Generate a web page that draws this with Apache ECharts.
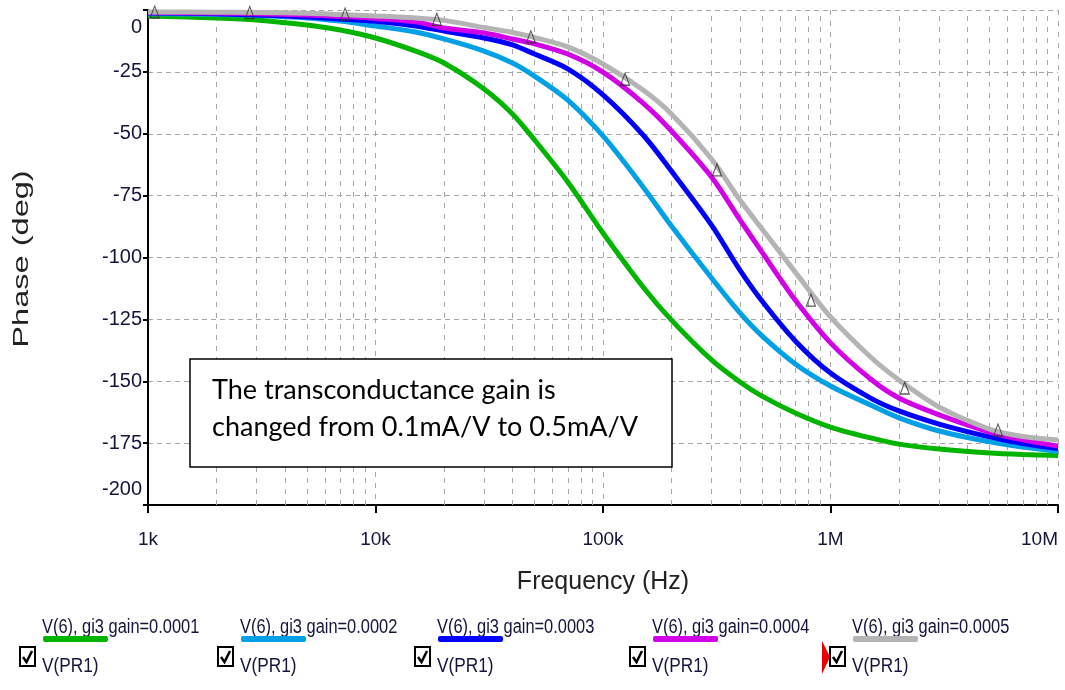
<!DOCTYPE html>
<html><head><meta charset="utf-8">
<script src="https://cdn.jsdelivr.net/npm/echarts@6/dist/echarts.min.js"></script>
<style>html,body{margin:0;padding:0;background:#fff}#chart{width:1065px;height:690px}</style>
</head><body><div id="chart"></div>
<script>
// ---------- data ----------
const frequencies = [1e3, 2e3, 3e3, 5e3, 7e3, 1e4, 1.5e4, 2e4, 3e4, 4e4, 5e4, 7e4, 1e5, 1.5e5, 2e5, 3e5, 4e5, 5e5, 7e5, 1e6, 1.5e6, 2e6, 3e6, 5e6, 7e6, 1e7];
const phaseGain1 = [-2.4, -3.2, -4.0, -6.1, -8.1, -11.3, -16.6, -21.4, -31.9, -42.0, -52.5, -69.5, -90.1, -111.9, -125.3, -141.4, -150.3, -156.0, -162.8, -168.5, -172.9, -175.4, -177.4, -179.0, -179.6, -180.0];
const phaseGain2 = [-1.5, -1.8, -2.2, -3.2, -4.5, -6.5, -8.9, -11.7, -16.6, -21.4, -26.7, -36.4, -50.9, -71.5, -87.3, -108.3, -122.4, -131.7, -143.0, -151.9, -159.6, -164.8, -170.1, -174.5, -176.6, -178.4];
const phaseGain3 = [-1.2, -1.5, -2.0, -2.8, -3.6, -4.6, -6.5, -8.5, -11.3, -14.1, -17.8, -23.8, -34.3, -50.5, -65.1, -86.9, -105.1, -117.6, -133.7, -146.7, -156.8, -162.0, -167.3, -172.5, -175.2, -177.2];
const phaseGain4 = [-1.0, -1.2, -1.5, -2.0, -2.6, -3.4, -4.8, -7.3, -9.3, -11.7, -13.7, -17.8, -25.1, -37.6, -48.9, -67.5, -84.8, -97.8, -117.2, -134.5, -149.1, -156.8, -163.6, -170.5, -173.7, -176.2];
const phaseGain5 = [-0.8, -0.9, -1.0, -1.3, -1.8, -2.4, -3.2, -4.2, -7.1, -9.1, -11.1, -14.9, -21.8, -32.3, -42.0, -60.2, -76.8, -88.5, -105.9, -124.0, -140.2, -149.5, -160.4, -169.3, -172.3, -173.7];
const markerFreqs = [1.07e3, 2.8e3, 7.35e3, 1.86e4, 4.82e4, 1.25e5, 3.17e5, 8.2e5, 2.12e6, 5.45e6];
const markerPhase = [-0.8, -1, -1.6, -3.8, -10.8, -28, -64.6, -117.2, -152.7, -169.7];
const seriesNames = ['V(6), gi3 gain=0.0001', 'V(6), gi3 gain=0.0002', 'V(6), gi3 gain=0.0003', 'V(6), gi3 gain=0.0004', 'V(6), gi3 gain=0.0005'];
const legendSubLabel = 'V(PR1)';
const seriesColors = ['#00b400', '#00a0e6', '#0000ff', '#d200e6', '#b4b4b4'];
const xTickLabels = ['1k', '10k', '100k', '1M', '10M'];
const minorGridFreqs = [2e3, 3e3, 4e3, 5e3, 6e3, 7e3, 8e3, 9e3, 2e4, 3e4, 4e4, 5e4, 6e4, 7e4, 8e4, 9e4, 2e5, 3e5, 4e5, 5e5, 6e5, 7e5, 8e5, 9e5, 2e6, 3e6, 4e6, 5e6, 6e6, 7e6, 8e6, 9e6];
const xTitle = 'Frequency (Hz)';
const yTitle = 'Phase (deg)';
const annotationLines = ['The transconductance gain is', 'changed from 0.1mA/V to 0.5mA/V'];

// ---------- layout ----------
const SANS = "'Liberation Sans',Arial,sans-serif";
const TXT = '#14143c';
const GRID_COLOR = '#a6a6a6';
const legendX = [20, 218, 415, 630, 830];
const curves = [phaseGain1, phaseGain2, phaseGain3, phaseGain4, phaseGain5];

const graphic = [];
seriesNames.forEach((name, i) => {
  const x0 = legendX[i];
  graphic.push({type: 'text', x: x0 + 22, y: 627, scaleX: 0.82, style: {text: name, fontFamily: SANS, fontSize: 20, fill: TXT, verticalAlign: 'middle'}});
  graphic.push({type: 'rect', shape: {x: x0 + 23, y: 636, width: 65, height: 6, r: 2}, style: {fill: seriesColors[i]}});
  graphic.push({type: 'rect', shape: {x: x0, y: 647, width: 15, height: 19}, style: {fill: '#fff', stroke: '#000', lineWidth: 2}});
  graphic.push({type: 'polyline', shape: {points: [[x0 + 3, 657], [x0 + 6.5, 662], [x0 + 12, 651]]}, style: {stroke: '#000', lineWidth: 2.5, fill: null}});
  graphic.push({type: 'text', x: x0 + 22, y: 666, scaleX: 0.82, style: {text: legendSubLabel, fontFamily: SANS, fontSize: 21, fill: TXT, verticalAlign: 'middle'}});
});
graphic.push({type: 'polygon', shape: {points: [[822, 641], [830, 657], [822, 674]]}, style: {fill: '#e80000'}});
graphic.push({type: 'text', x: 22, y: 259, rotation: Math.PI / 2, scaleX: 1.48,
  style: {text: yTitle, fontFamily: SANS, fontSize: 22, fill: '#222', align: 'center', verticalAlign: 'middle'}});
graphic.push({type: 'rect', z: 100, shape: {x: 190, y: 359, width: 482, height: 108}, style: {fill: '#fff', stroke: '#000', lineWidth: 1.5}});
annotationLines.forEach((t, i) => {
  graphic.push({type: 'text', z: 101, x: 212, y: 390 + i * 37, style: {text: t, fontFamily: 'Lato', fontSize: 27, fill: '#000', verticalAlign: 'middle'}});
});

const series = curves.map((c, i) => ({
  type: 'line', name: seriesNames[i],
  data: frequencies.map((f, j) => [f, c[j]]),
  showSymbol: false, smooth: 0.3, clip: false,
  lineStyle: {color: seriesColors[i], width: 5},
  itemStyle: {color: seriesColors[i]},
  z: 3 + i
}));
series.push({
  type: 'scatter', name: 'markers',
  data: markerFreqs.map((f, j) => [f, markerPhase[j]]),
  symbol: 'triangle', symbolSize: [9, 12], clip: false,
  itemStyle: {color: 'rgba(255,255,255,0)', borderColor: '#333', borderWidth: 1.2},
  z: 20
});
series.push({
  type: 'line', name: 'minorGrid', data: [], z: 1,
  markLine: {
    silent: true, symbol: 'none', z: 1, animation: false,
    label: {show: false},
    lineStyle: {color: GRID_COLOR, type: [5, 6], width: 1},
    emphasis: {disabled: true},
    data: minorGridFreqs.map(f => ({xAxis: f}))
  }
});

const yLabelStyle = {fontFamily: SANS, fontSize: 20, color: TXT};
const chart = echarts.init(document.getElementById('chart'));
chart.setOption({
  animation: false,
  backgroundColor: '#fff',
  grid: {left: 148, top: 10, right: 7, bottom: 185, containLabel: false},
  xAxis: {
    type: 'log', logBase: 10, min: 1e3, max: 1e7,
    name: xTitle, nameLocation: 'middle', nameGap: 65,
    nameTextStyle: {fontFamily: SANS, fontSize: 25, color: '#222'},
    axisLine: {show: true, onZero: false, lineStyle: {color: '#000', width: 2}},
    axisTick: {show: true, length: 8, lineStyle: {color: '#000', width: 2}},
    axisLabel: {
      fontFamily: SANS, fontSize: 19, color: TXT, margin: 25,
      alignMinLabel: 'left', alignMaxLabel: 'right',
      formatter: v => xTickLabels[Math.round(Math.log10(v)) - 3] || ''
    },
    splitLine: {show: true, lineStyle: {color: GRID_COLOR, type: [5, 6], width: 1}}
  },
  yAxis: {
    type: 'value', min: -200, max: 0, interval: 25,
    axisLine: {show: true, onZero: false, lineStyle: {color: '#000', width: 2}},
    axisTick: {show: true, length: 5, lineStyle: {color: '#000', width: 2}},
    axisLabel: Object.assign({}, yLabelStyle, {
      margin: 6,
      verticalAlignMinLabel: 'bottom', verticalAlignMaxLabel: 'top',
      formatter: v => v === 0 ? '{top|0}' : (v === -200 ? '{bot|-200}' : String(v)),
      rich: {
        top: Object.assign({}, yLabelStyle, {padding: [7, 0, 0, 0]}),
        bot: Object.assign({}, yLabelStyle, {padding: [0, 0, 6, 0]})
      }
    }),
    splitLine: {show: true, lineStyle: {color: GRID_COLOR, type: [5, 4], width: 1}}
  },
  graphic: graphic,
  series: series
});
</script></body></html>
